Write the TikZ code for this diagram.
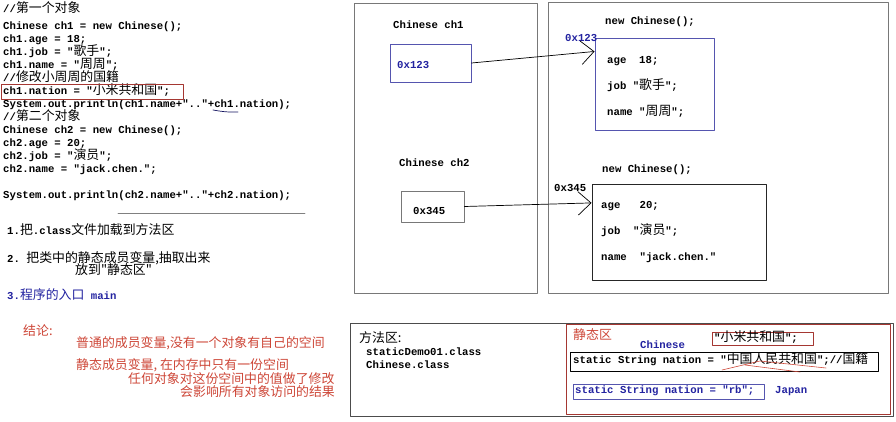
\documentclass[tikz,border=0pt]{standalone}
\usepackage{fontspec}
\setmonofont{Liberation Mono}
\newfontfamily\cjk{Noto Sans CJK SC}
\newcommand\zh[1]{{\cjk\mdseries\fontsize{11}{11}\selectfont #1}}
\usetikzlibrary{fit,calc,arrows.meta}
\definecolor{codeblue}{RGB}{35,35,160}
\definecolor{boxblue}{RGB}{85,85,175}
\definecolor{notered}{RGB}{205,70,55}
\definecolor{areared}{RGB}{165,55,50}
\definecolor{framegray}{RGB}{120,120,120}
\begin{document}
\begin{tikzpicture}[x=0.03cm, y=-0.03cm, line join=round, line cap=round,
  codetxt/.style={font=\ttfamily\bfseries\fontsize{9.1}{9.1}\selectfont, anchor=mid west, inner sep=0pt},
  notetxt/.style={font=\cjk\fontsize{11}{11}\selectfont, anchor=mid west, inner sep=0pt},
  boxline/.style={draw=framegray, line width=0.8pt, inner sep=0pt},
  ptr/.style={-{Straight Barb[length=11pt,width=20pt]}, line width=0.6pt}]
\useasboundingbox (0,0) rectangle (896,422);
% source code
\node[codetxt] (c0) at (3,10) {//\zh{第一个对象}};
\node[codetxt] (c1) at (3,27) {Chinese ch1 = new Chinese();};
\node[codetxt] (c2) at (3,40) {ch1.age = 18;};
\node[codetxt] (c3) at (3,53) {ch1.job = "\zh{歌手}";};
\node[codetxt] (c4) at (3,66) {ch1.name = "\zh{周周}";};
\node[codetxt] (c5) at (3,79) {//\zh{修改小周周的国籍}};
\node[codetxt] (c6) at (3,92) {ch1.nation = "\zh{小米共和国}";};
\node[codetxt] (c7) at (3,105) {System.out.println(ch1.name+".."+ch1.nation);};
\node[codetxt] (c8) at (3,118) {//\zh{第二个对象}};
\node[codetxt] (c9) at (3,131) {Chinese ch2 = new Chinese();};
\node[codetxt] (c10) at (3,144) {ch2.age = 20;};
\node[codetxt] (c11) at (3,157) {ch2.job = "\zh{演员}";};
\node[codetxt] (c12) at (3,170) {ch2.name = "jack.chen.";};
\node[codetxt] (c13) at (3,196) {System.out.println(ch2.name+".."+ch2.nation);};
\node[boxline, draw=areared, line width=0.6pt, fit={(1,84) (183,99)}] (hl) {};
\draw[codeblue!60!black, line width=0.6pt] (213,110) .. controls (225,112) .. (238,112);
\draw[gray, line width=0.8pt] (118,213) -- (305,213);
% steps
\node[codetxt] (s1) at (7,232) {1.\zh{把}.class\zh{文件加载到方法区}};
\node[codetxt] (s2) at (7,260) {2. \zh{把类中的静态成员变量,抽取出来}};
\node[notetxt] (s2b) at (75,272) {放到"静态区"};
\node[codetxt, codeblue] (s3) at (7,297) {3.\zh{程序的入口} main};
\node[notetxt, notered] (k0) at (23,333) {结论:};
\node[notetxt, notered] (k1) at (76,345) {普通的成员变量,没有一个对象有自己的空间};
\node[notetxt, notered] (k2) at (76,367) {静态成员变量, 在内存中只有一份空间};
\node[notetxt, notered] (k3) at (128,381) {任何对象对这份空间中的值做了修改};
\node[notetxt, notered] (k4) at (180,394) {会影响所有对象访问的结果};
% stack
\node[boxline, fit={(354,3) (537,293)}] (stack) {};
\node[codetxt] (n1) at (393,26) {Chinese ch1};
\node[boxline, draw=boxblue, fit={(390,44) (471,82)}] (v1) {};
\node[codetxt, codeblue] (a1) at (397,66) {0x123};
\node[codetxt] (n2) at (399,164) {Chinese ch2};
\node[boxline, fit={(401,191) (464,222)}] (v2) {};
\node[codetxt] (a2) at (413,212) {0x345};
% heap
\node[boxline, fit={(548,2) (888,293)}] (heap) {};
\node[codetxt] (h1) at (605,22) {new Chinese();};
\node[boxline, draw=boxblue, fit={(595,38) (714,130)}] (o1) {};
\node[codetxt, codeblue] (r1) at (565,39) {0x123};
\node[codetxt] (f1) at (607,61) {age~~18;};
\node[codetxt] (f2) at (607,87) {job "\zh{歌手}";};
\node[codetxt] (f3) at (607,113) {name "\zh{周周}";};
\node[codetxt] (h2) at (602,170) {new Chinese();};
\node[boxline, draw=black!85, fit={(592,184) (766,280)}] (o2) {};
\node[codetxt] (r2) at (554,189) {0x345};
\node[codetxt] (g1) at (601,206) {age~~~20;};
\node[codetxt] (g2) at (601,232) {job~~"\zh{演员}";};
\node[codetxt] (g3) at (601,258) {name~~"jack.chen."};
\draw[ptr] (v1.east) -- ($(o1.north west)!0.15!(o1.south west)$);
\draw[ptr] (v2.east) -- ($(o2.north west)!0.2!(o2.south west)$);
% method area
\node[boxline, draw=black!70, fit={(350,323) (893,416)}] (method) {};
\node[notetxt] (m0) at (359,340) {方法区:};
\node[codetxt] (m1) at (366,353) {staticDemo01.class};
\node[codetxt] (m2) at (366,366) {Chinese.class};
\node[boxline, draw=areared, fit={(566,324) (890,414)}] (static) {};
\node[notetxt, notered] (st) at (573,337) {静态区};
\node[codetxt, codeblue] (sc) at (640,346) {Chinese};
\node[boxline, draw=areared, line width=0.6pt, fit={(712,332) (813,345)}] (nv) {};
\node[codetxt] (nvt) at (714,339) {"\zh{小米共和国}";};
\node[boxline, draw=black, fit={(570,352) (878,371)}] (cn) {};
\node[codetxt] (cnt) at (573,361) {static String nation = "\zh{中国人民共和国}";//\zh{国籍}};
\draw[notered, line width=0.5pt] (722,370) -- (760,361) -- (826,368);
\draw[notered, line width=0.5pt] (745,365) -- (800,372);
\node[boxline, draw=boxblue, fit={(573,384) (764,399)}] (jp) {};
\node[codetxt, codeblue] (jpt) at (575,391) {static String nation = "rb";};
\node[codetxt, codeblue] (jpn) at (775,391) {Japan};
\end{tikzpicture}
\end{document}
